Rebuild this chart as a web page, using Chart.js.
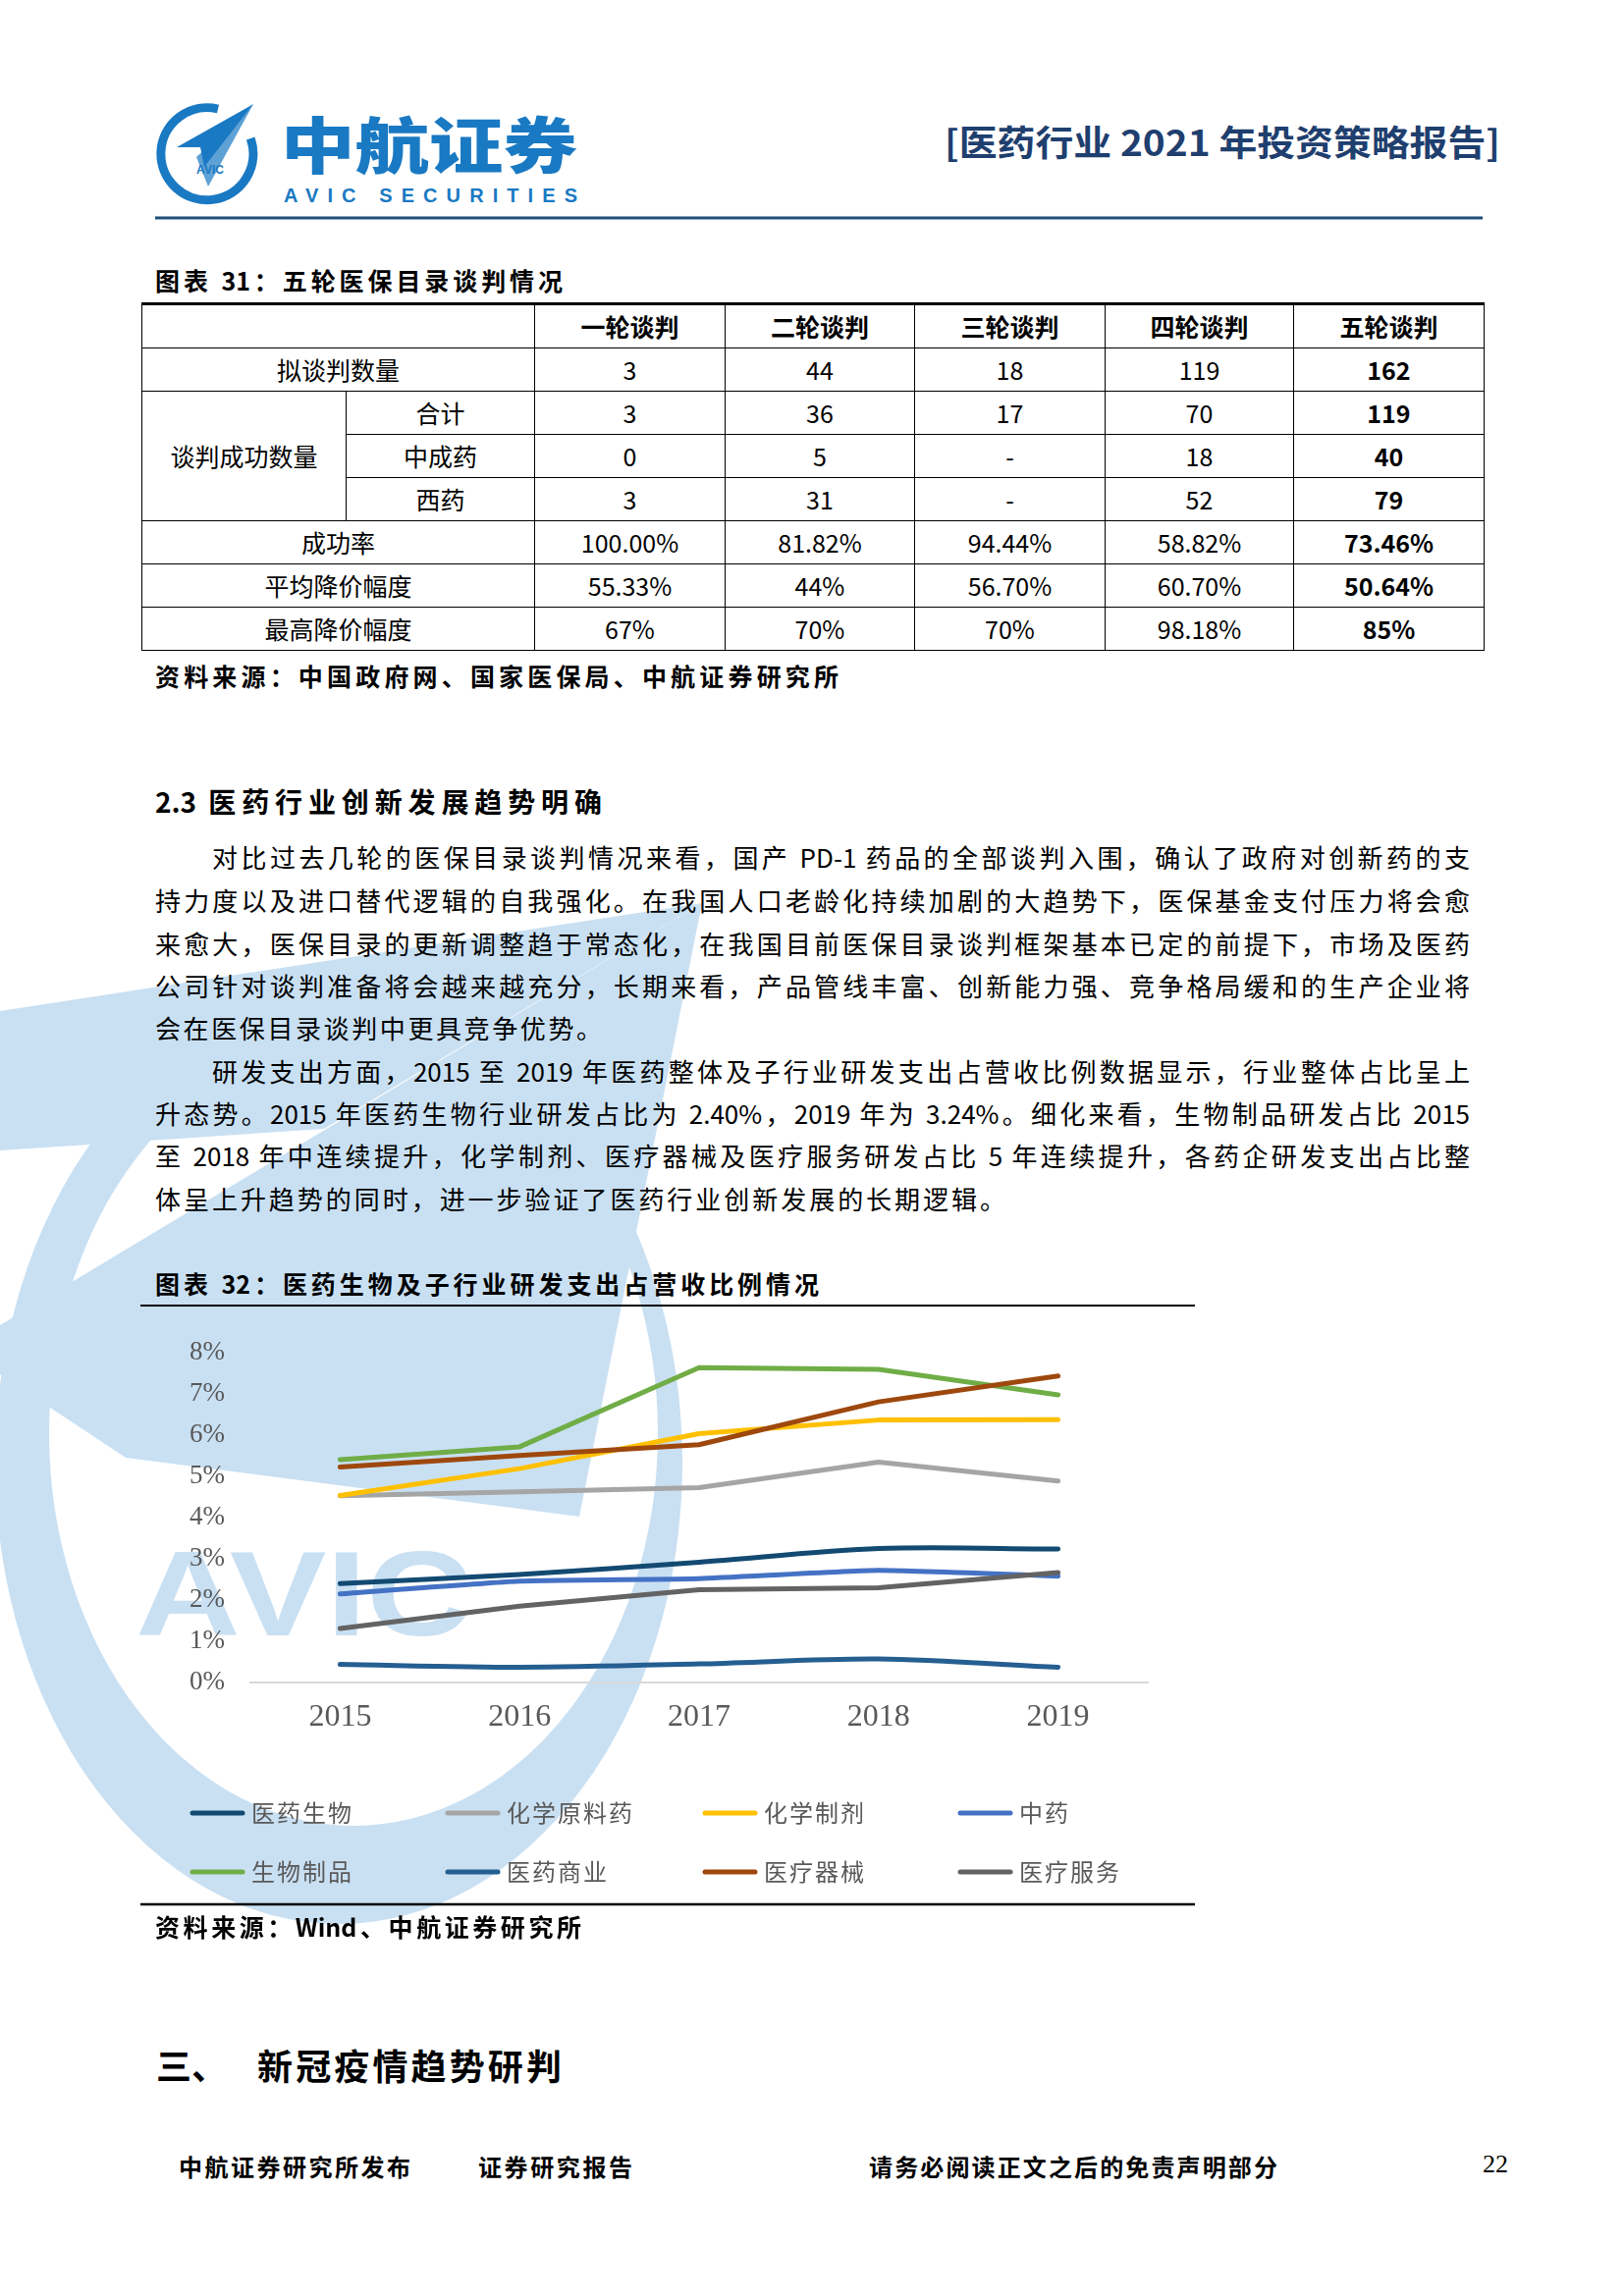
<!DOCTYPE html>
<html><head><meta charset="utf-8">
<script src="https://cdn.jsdelivr.net/npm/chart.js@4.4.1/dist/chart.umd.min.js"></script>
<style>
html,body{margin:0;padding:0;background:#fff;}
body{width:1654px;height:2339px;position:relative;overflow:hidden;font-family:"Noto Sans CJK SC","Noto Sans",sans-serif;color:#000;}
.jl{position:absolute;text-align:justify;text-align-last:justify;line-height:1;}
.bd{font-weight:700;}
.tbl{position:absolute;left:144px;top:308px;width:1367px;border-collapse:collapse;table-layout:fixed;font-size:25px;}
.tbl td{border:1.5px solid #000;text-align:center;padding:0;height:43px;line-height:1;}
.tbl tr:first-child td{border-top:3px solid #000;font-weight:700;}
.tbl td.b{font-weight:700;}
#wrap{position:absolute;left:143px;top:1336px;width:1074px;height:609px;}
</style></head>
<body>
<svg width="1654" height="2339" style="position:absolute;left:0;top:0;">
  <defs>
    <clipPath id="ringClip"><polygon points="0,990 190,990 190,1150 800,1150 800,2050 0,2050"/></clipPath>
  </defs>
  <!-- watermark -->
  <g fill="#c9e0f3" stroke="none">
    <polygon points="715,920 0,1030 0,1172 330,1150"/>
    <polygon points="715,920 0,1350 0,1400 128,1485 590,1545"/>
    <polygon points="715,920 560,1262 600,1262"/>
    <path clip-path="url(#ringClip)" fill-rule="evenodd" d="M -5,1490 A 350,470 0 1 0 695,1490 A 350,470 0 1 0 -5,1490 Z M 50,1460 A 310,400 0 1 0 670,1460 A 310,400 0 1 0 50,1460 Z"/>
  </g>
  <text x="138" y="1666" font-family="Liberation Sans, Arial, sans-serif" font-weight="700" font-size="122" fill="#c9e0f3" textLength="342" lengthAdjust="spacingAndGlyphs">AVIC</text>
  <!-- header logo -->
  <path d="M 255.2,141 A47,47 0 1 1 222,111" fill="none" stroke="#1a79c3" stroke-width="9"/>
  <polygon points="258,106 180,150 204,150 208,170" fill="#1a79c3"/>
  <polygon points="258,106 200,160 212,190" fill="#1a79c3" opacity="0.7"/>
  <text x="214" y="177" font-family="Liberation Sans, Arial, sans-serif" font-weight="700" font-size="12" fill="#1a79c3" text-anchor="middle">AVIC</text>
  <text x="286" y="145" dominant-baseline="central" font-family="Noto Sans CJK SC" font-weight="900" font-size="62" fill="#1a79c3" textLength="302" lengthAdjust="spacingAndGlyphs">中航证券</text>
  <text x="289" y="206" font-family="Liberation Sans, Arial, sans-serif" font-weight="700" font-size="20" fill="#1a79c3" textLength="299" lengthAdjust="spacing">AVIC SECURITIES</text>
  <text x="962" y="143" dominant-baseline="central" font-family="Noto Sans CJK SC" font-weight="700" font-size="36" fill="#1f3f6f" textLength="566" lengthAdjust="spacingAndGlyphs">[医药行业 2021 年投资策略报告]</text>
  <line x1="158" y1="222" x2="1510" y2="222" stroke="#1f4e79" stroke-width="3"/>
  <!-- chart frame lines -->
  <line x1="143" y1="1330" x2="1217" y2="1330" stroke="#000" stroke-width="2"/>
  <line x1="143" y1="1940" x2="1217" y2="1940" stroke="#000" stroke-width="2.5"/>
</svg>

<div class="jl bd" style="left:158px;top:273px;width:415px;font-size:25px;">图表 31：五轮医保目录谈判情况</div>

<table class="tbl">
<colgroup><col style="width:208px"><col style="width:192px"><col style="width:194px"><col style="width:193px"><col style="width:194px"><col style="width:192px"><col style="width:194px"></colgroup>
<tr><td colspan="2"></td><td>一轮谈判</td><td>二轮谈判</td><td>三轮谈判</td><td>四轮谈判</td><td>五轮谈判</td></tr>
<tr><td colspan="2">拟谈判数量</td><td>3</td><td>44</td><td>18</td><td>119</td><td class="b">162</td></tr>
<tr><td rowspan="3">谈判成功数量</td><td>合计</td><td>3</td><td>36</td><td>17</td><td>70</td><td class="b">119</td></tr>
<tr><td>中成药</td><td>0</td><td>5</td><td>-</td><td>18</td><td class="b">40</td></tr>
<tr><td>西药</td><td>3</td><td>31</td><td>-</td><td>52</td><td class="b">79</td></tr>
<tr><td colspan="2">成功率</td><td>100.00%</td><td>81.82%</td><td>94.44%</td><td>58.82%</td><td class="b">73.46%</td></tr>
<tr><td colspan="2">平均降价幅度</td><td>55.33%</td><td>44%</td><td>56.70%</td><td>60.70%</td><td class="b">50.64%</td></tr>
<tr><td colspan="2">最高降价幅度</td><td>67%</td><td>70%</td><td>70%</td><td>98.18%</td><td class="b">85%</td></tr>
</table>

<div class="jl bd" style="left:158px;top:676px;width:696px;font-size:25px;">资料来源：中国政府网、国家医保局、中航证券研究所</div>

<div class="jl bd" style="left:158px;top:802px;width:455px;font-size:28px;">2.3 医药行业创新发展趋势明确</div>

<div class="jl" style="left:216px;top:860px;width:1281px;font-size:26px;">对比过去几轮的医保目录谈判情况来看，国产 PD-1 药品的全部谈判入围，确认了政府对创新药的支</div>
<div class="jl" style="left:158px;top:904px;width:1339px;font-size:26px;">持力度以及进口替代逻辑的自我强化。在我国人口老龄化持续加剧的大趋势下，医保基金支付压力将会愈</div>
<div class="jl" style="left:158px;top:948px;width:1339px;font-size:26px;">来愈大，医保目录的更新调整趋于常态化，在我国目前医保目录谈判框架基本已定的前提下，市场及医药</div>
<div class="jl" style="left:158px;top:991px;width:1339px;font-size:26px;">公司针对谈判准备将会越来越充分，长期来看，产品管线丰富、创新能力强、竞争格局缓和的生产企业将</div>
<div class="jl" style="left:158px;top:1034px;width:455px;font-size:26px;">会在医保目录谈判中更具竞争优势。</div>
<div class="jl" style="left:216px;top:1078px;width:1281px;font-size:26px;">研发支出方面，2015 至 2019 年医药整体及子行业研发支出占营收比例数据显示，行业整体占比呈上</div>
<div class="jl" style="left:158px;top:1121px;width:1339px;font-size:26px;">升态势。2015 年医药生物行业研发占比为 2.40%，2019 年为 3.24%。细化来看，生物制品研发占比 2015</div>
<div class="jl" style="left:158px;top:1164px;width:1339px;font-size:26px;">至 2018 年中连续提升，化学制剂、医疗器械及医疗服务研发占比 5 年连续提升，各药企研发支出占比整</div>
<div class="jl" style="left:158px;top:1208px;width:866px;font-size:26px;">体呈上升趋势的同时，进一步验证了医药行业创新发展的长期逻辑。</div>

<div class="jl bd" style="left:158px;top:1295px;width:676px;font-size:25px;">图表 32：医药生物及子行业研发支出占营收比例情况</div>

<div id="wrap"><canvas id="c"></canvas></div>

<div class="jl bd" style="left:158px;top:1950px;width:434px;font-size:25px;">资料来源：Wind、中航证券研究所</div>

<div class="jl bd" style="left:159px;top:2085px;width:60px;font-size:36px;">三、</div>
<div class="jl bd" style="left:262px;top:2085px;width:310px;font-size:36px;">新冠疫情趋势研判</div>

<div class="jl bd" style="left:182px;top:2195px;width:236px;font-size:24px;">中航证券研究所发布</div>
<div class="jl bd" style="left:487px;top:2195px;width:157px;font-size:24px;">证券研究报告</div>
<div class="jl bd" style="left:885px;top:2195px;width:416px;font-size:24px;">请务必阅读正文之后的免责声明部分</div>
<div style="position:absolute;left:1503px;top:2192px;width:40px;text-align:center;font-family:'Liberation Serif',serif;font-size:26px;line-height:1;">22</div>

<script>
// ---- data ----
const years = ['2015', '2016', '2017', '2018', '2019'];
const seriesNames = ['医药生物', '化学原料药', '化学制剂', '中药', '生物制品', '医药商业', '医疗器械', '医疗服务'];
const yiyaoShengwu   = [2.40, 2.62, 2.92, 3.25, 3.24];
const huaxueYuanliao = [4.53, 4.63, 4.73, 5.35, 4.89];
const huaxueZhiji    = [4.54, 5.19, 6.04, 6.37, 6.38];
const zhongyao       = [2.15, 2.46, 2.52, 2.72, 2.58];
const shengwuZhipin  = [5.41, 5.72, 7.64, 7.60, 6.98];
const yiyaoShangye   = [0.44, 0.37, 0.45, 0.57, 0.37];
const yiliaoQixie    = [5.23, 5.51, 5.77, 6.81, 7.44];
const yiliaoFuwu     = [1.31, 1.85, 2.25, 2.30, 2.67];
const yTickValues    = [0, 1, 2, 3, 4, 5, 6, 7, 8];

const seriesValues = [yiyaoShengwu, huaxueYuanliao, huaxueZhiji, zhongyao, shengwuZhipin, yiyaoShangye, yiliaoQixie, yiliaoFuwu];
const seriesColors = ['#134a72', '#a5a5a5', '#ffc000', '#4472c4', '#70ad47', '#255e91', '#9e480e', '#636363'];
const seriesTension = [0.3, 0, 0, 0.15, 0, 0.3, 0, 0];

const datasets = seriesNames.map((n, i) => ({
  label: n,
  data: seriesValues[i],
  borderColor: seriesColors[i],
  backgroundColor: seriesColors[i],
  borderWidth: 5,
  pointRadius: 0,
  pointHoverRadius: 0,
  tension: seriesTension[i],
  borderCapStyle: 'round',
  borderJoinStyle: 'round',
  fill: false,
  order: seriesNames.length - i
}));

const gridLegend = {
  id: 'gridLegend',
  afterDraw(chart) {
    const ctx = chart.ctx;
    const colX = [50, 310, 572, 832];
    const rowY = [511, 571];
    ctx.save();
    chart.data.datasets.forEach((ds, i) => {
      const x = colX[i % 4];
      const y = rowY[Math.floor(i / 4)];
      ctx.strokeStyle = ds.borderColor;
      ctx.lineWidth = 5;
      ctx.lineCap = 'round';
      ctx.beginPath();
      ctx.moveTo(x + 3, y);
      ctx.lineTo(x + 54, y);
      ctx.stroke();
      ctx.fillStyle = '#595959';
      ctx.font = '24px "Noto Sans CJK SC"';
      ctx.textBaseline = 'middle';
      ctx.textAlign = 'left';
      let tx = x + 63;
      for (const ch of ds.label) {
        ctx.fillText(ch, tx, y);
        tx += 26;
      }
    });
    ctx.restore();
  }
};

new Chart(document.getElementById('c'), {
  type: 'line',
  data: { labels: years, datasets },
  plugins: [gridLegend],
  options: {
    responsive: true,
    maintainAspectRatio: false,
    animation: false,
    devicePixelRatio: 1,
    layout: { padding: { top: 0, right: 48, bottom: 161, left: 0 } },
    plugins: { legend: { display: false }, tooltip: { enabled: false } },
    scales: {
      x: {
        offset: true,
        grid: { display: false, drawTicks: false },
        border: { display: true, color: '#d9d9d9', width: 2 },
        ticks: { color: '#595959', font: { family: 'Liberation Serif', size: 32 }, padding: 16, maxRotation: 0 },
        afterFit(s) { s.height = 70; }
      },
      y: {
        min: 0, max: 8,
        afterBuildTicks(s) { s.ticks = yTickValues.map(v => ({ value: v })); },
        grid: { display: false, drawTicks: false },
        border: { display: false },
        ticks: { color: '#595959', font: { family: 'Liberation Serif', size: 27 }, padding: 26, callback: v => v + '%' },
        afterFit(s) { s.width = 112; }
      }
    }
  }
});
</script>
</body></html>
